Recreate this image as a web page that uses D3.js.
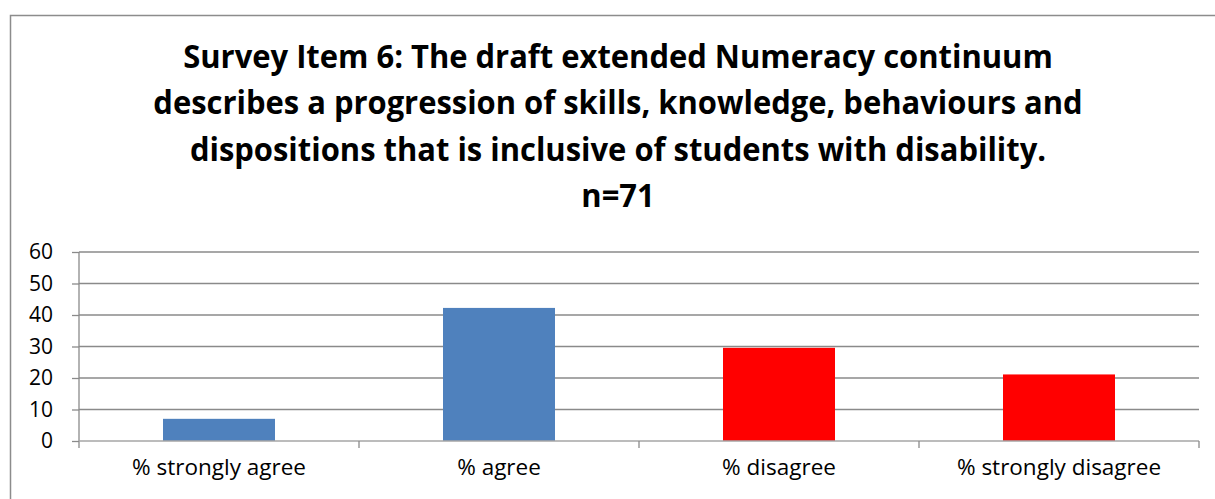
<!DOCTYPE html>
<html><head><meta charset="utf-8">
<script src="https://cdn.jsdelivr.net/npm/d3@7"></script>
<style>html,body{margin:0;padding:0;background:#fff;overflow:hidden}</style>
</head><body>
<svg id="chart" width="1215" height="499"></svg>
<script>
const categories = ["% strongly agree", "% agree", "% disagree", "% strongly disagree"];
const values = [7.04, 42.25, 29.58, 21.13];
const barColors = ["#4F81BD", "#4F81BD", "#FF0000", "#FF0000"];
const yTicks = [0, 10, 20, 30, 40, 50, 60];
const titleLines = [
  "Survey Item 6: The draft extended Numeracy continuum",
  "describes a progression of skills, knowledge, behaviours and",
  "dispositions that is inclusive of students with disability.",
  "n=71"
];

(function () {
const svg = d3.select("#chart");
const font = "'Open Sans', 'DejaVu Sans', sans-serif";

// outer frame
svg.append("rect").attr("x", 10.5).attr("y", 15.5).attr("width", 1215).attr("height", 500)
  .attr("fill", "none").attr("stroke", "#8c8c8c").attr("stroke-width", 1.5);

const pLeft = 79, pRight = 1199, pTop = 252, pBottom = 441;
const x = d3.scaleBand().domain(categories).range([pLeft, pRight]).padding(0);
const y = d3.scaleLinear().domain([0, 60]).range([pBottom, pTop]);

// gridlines
svg.append("g").selectAll("line").data(yTicks.filter(d => d > 0)).join("line")
  .attr("x1", pLeft).attr("x2", pRight)
  .attr("y1", d => y(d)).attr("y2", d => y(d))
  .attr("stroke", "#8a8a8a").attr("stroke-width", 1.3);

// y axis
const yAxis = d3.axisLeft(y).tickValues(yTicks).tickSize(7).tickPadding(19).tickSizeOuter(0);
const gy = svg.append("g").attr("transform", `translate(${pLeft},0)`).call(yAxis);
gy.select(".domain").attr("stroke", "#8a8a8a").attr("stroke-width", 1.3)
  .attr("d", `M0,${pTop}V${pBottom + 7}`);
gy.selectAll(".tick line").attr("stroke", "#8a8a8a").attr("stroke-width", 1.3);
gy.selectAll(".tick text").attr("font-family", font).attr("font-size", "21px").attr("fill", "#000");

// bars
const bw = x.bandwidth();
svg.append("g").selectAll("rect").data(values).join("rect")
  .attr("x", (d, i) => x(categories[i]) + bw * 0.3)
  .attr("width", bw * 0.4)
  .attr("y", d => y(d))
  .attr("height", d => y(0) - y(d))
  .attr("fill", (d, i) => barColors[i]);

// x axis
const xAxis = d3.axisBottom(x).tickSize(0).tickPadding(18);
const gx = svg.append("g").attr("transform", `translate(0,${pBottom})`).call(xAxis);
gx.select(".domain").attr("stroke", "#a6a6a6").attr("stroke-width", 1.5).attr("d", `M${pLeft},0H${pRight}`);
gx.selectAll(".tick text").attr("font-family", font).attr("font-size", "22.5px").attr("fill", "#000");
// category boundary ticks
svg.append("g").selectAll("line").data(categories).join("line")
  .attr("x1", d => x(d) + bw).attr("x2", d => x(d) + bw)
  .attr("y1", pBottom).attr("y2", pBottom + 7)
  .attr("stroke", "#8a8a8a").attr("stroke-width", 1.3);

// title
const baselines = [67.5, 114, 160.5, 207];
const tt = svg.append("g").selectAll("text").data(titleLines).join("text")
  .attr("x", 0).attr("y", 0)
  .attr("text-anchor", "middle")
  .attr("font-family", font).attr("font-weight", "bold").attr("font-size", "33px")
  .attr("fill", "#000").text(d => d);
const w0 = tt.nodes()[0].getComputedTextLength();
const sx = 870 / w0;
tt.attr("transform", (d, i) => `translate(618,${baselines[i]}) scale(${sx},1)`);
})();
</script>
</body></html>
